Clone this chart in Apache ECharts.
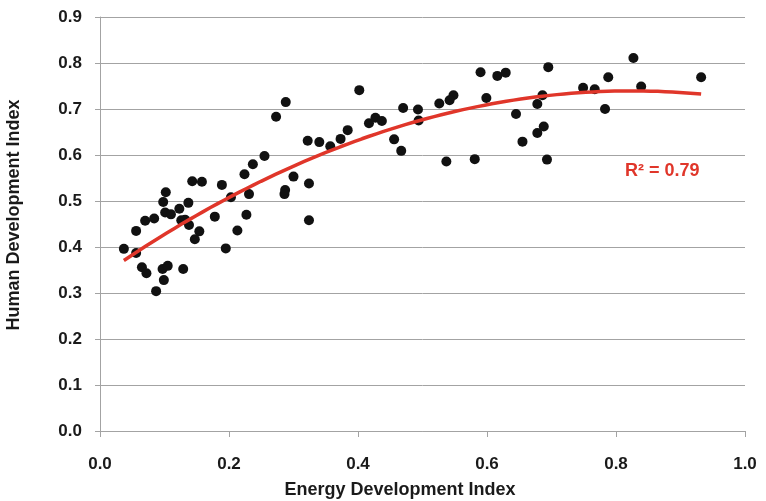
<!DOCTYPE html>
<html>
<head>
<meta charset="utf-8">
<script src="https://cdn.jsdelivr.net/npm/echarts@6/dist/echarts.min.js"></script>
<style>
  html, body { margin: 0; padding: 0; background: #fff; }
  #chart { width: 766px; height: 501px; }
</style>
</head>
<body>
<div id="chart"></div>
<script>
// Energy Development Index (x) and Human Development Index (y) per country
const energyIdx = [
  0.037, 0.056, 0.056, 0.065, 0.072, 0.070, 0.084, 0.087, 0.097, 0.105,
  0.099, 0.098, 0.102, 0.101, 0.110, 0.123, 0.137, 0.126, 0.132, 0.138,
  0.154, 0.147, 0.129, 0.143, 0.158, 0.178, 0.189, 0.203, 0.224, 0.231,
  0.227, 0.213, 0.195, 0.402, 0.288, 0.273, 0.417, 0.427, 0.322, 0.340,
  0.357, 0.373, 0.384, 0.255, 0.237, 0.300, 0.287, 0.286, 0.324, 0.324,
  0.590, 0.616, 0.629, 0.695, 0.599, 0.686, 0.678, 0.645, 0.688, 0.678,
  0.655, 0.693, 0.581, 0.537, 0.548, 0.542, 0.526, 0.470, 0.493, 0.494,
  0.456, 0.467, 0.437, 0.827, 0.788, 0.932, 0.749, 0.767, 0.839, 0.783
];
const humanIdx = [
  0.396, 0.435, 0.387, 0.356, 0.343, 0.457, 0.462, 0.304, 0.352, 0.359,
  0.328, 0.498, 0.519, 0.475, 0.471, 0.483, 0.496, 0.458, 0.459, 0.448,
  0.434, 0.417, 0.352, 0.543, 0.542, 0.466, 0.535, 0.508, 0.558, 0.515,
  0.470, 0.436, 0.397, 0.741, 0.715, 0.683, 0.669, 0.681, 0.631, 0.628,
  0.619, 0.635, 0.654, 0.598, 0.580, 0.553, 0.524, 0.515, 0.538, 0.458,
  0.780, 0.772, 0.779, 0.791, 0.724, 0.730, 0.711, 0.689, 0.662, 0.648,
  0.629, 0.590, 0.591, 0.586, 0.730, 0.719, 0.712, 0.702, 0.699, 0.675,
  0.634, 0.609, 0.674, 0.811, 0.769, 0.769, 0.746, 0.743, 0.749, 0.700
];
const rSquaredLabel = 'R\u00b2 = 0.79';

const scatterData = energyIdx.map((x, i) => [x, humanIdx[i]]);

// 2nd order polynomial least squares fit (same as the spreadsheet trendline)
function polyFit2 (xs, ys) {
  let s = [0, 0, 0, 0, 0], t = [0, 0, 0];
  for (let i = 0; i < xs.length; i++) {
    let p = 1;
    for (let k = 0; k < 5; k++) { s[k] += p; if (k < 3) t[k] += p * ys[i]; p *= xs[i]; }
  }
  const m = [[s[0], s[1], s[2], t[0]], [s[1], s[2], s[3], t[1]], [s[2], s[3], s[4], t[2]]];
  for (let c = 0; c < 3; c++) {
    for (let r = c + 1; r < 3; r++) {
      const f = m[r][c] / m[c][c];
      for (let k = c; k < 4; k++) m[r][k] -= f * m[c][k];
    }
  }
  const b = [0, 0, 0];
  for (let r = 2; r >= 0; r--) {
    let v = m[r][3];
    for (let k = r + 1; k < 3; k++) v -= m[r][k] * b[k];
    b[r] = v / m[r][r];
  }
  return b;
}

const coef = polyFit2(energyIdx, humanIdx);
const xMin = Math.min(...energyIdx), xMax = Math.max(...energyIdx);
const trendData = [];
for (let i = 0; i <= 80; i++) {
  const x = xMin + (xMax - xMin) * i / 80;
  trendData.push([x, coef[0] + coef[1] * x + coef[2] * x * x]);
}

var chartDom = document.getElementById('chart');
var myChart = echarts.init(chartDom);
var font = '"Liberation Sans", Arial, Helvetica, sans-serif';
var option;

option = {
  animation: false,
  grid: { left: 100, right: 21, top: 17, bottom: 70 },
  xAxis: {
    type: 'value',
    min: 0,
    max: 1,
    interval: 0.2,
    axisLine: { lineStyle: { color: '#a3a3a3', width: 1 } },
    axisTick: { show: true, length: 6, lineStyle: { color: '#a3a3a3' } },
    axisLabel: {
      margin: 25,
      color: '#1a1a1a',
      fontFamily: font,
      fontWeight: 'bold',
      fontSize: 17,
      formatter: v => v.toFixed(1)
    },
    splitLine: { show: false }
  },
  yAxis: {
    type: 'value',
    min: 0,
    max: 0.9,
    interval: 0.1,
    axisLine: { show: true, lineStyle: { color: '#a3a3a3', width: 1 } },
    axisTick: { show: true, length: 5, lineStyle: { color: '#a3a3a3' } },
    axisLabel: {
      margin: 18,
      color: '#1a1a1a',
      fontFamily: font,
      fontWeight: 'bold',
      fontSize: 17,
      formatter: v => v.toFixed(1)
    },
    splitLine: { show: true, lineStyle: { color: '#a3a3a3', width: 1 } }
  },
  graphic: [
    {
      type: 'text',
      x: 400,
      y: 490,
      style: {
        text: 'Energy Development Index',
        fill: '#1a1a1a',
        font: 'bold 18px ' + font,
        textAlign: 'center',
        textVerticalAlign: 'middle'
      }
    },
    {
      type: 'text',
      x: 14,
      y: 215,
      rotation: Math.PI / 2,
      style: {
        text: 'Human Development Index',
        fill: '#1a1a1a',
        font: 'bold 18px ' + font,
        textAlign: 'center',
        textVerticalAlign: 'middle'
      }
    },
    {
      type: 'text',
      x: 625,
      y: 171,
      style: {
        text: rSquaredLabel,
        fill: '#e0362a',
        font: 'bold 18px ' + font,
        textAlign: 'left',
        textVerticalAlign: 'middle'
      }
    }
  ],
  series: [
    {
      name: 'Countries',
      type: 'scatter',
      symbol: 'circle',
      symbolSize: 10,
      itemStyle: { color: '#111111', opacity: 1 },
      data: scatterData,
      z: 2
    },
    {
      name: 'Trend',
      type: 'line',
      showSymbol: false,
      smooth: false,
      lineStyle: { color: '#e0362a', width: 3.5 },
      data: trendData,
      z: 3
    }
  ]
};

option && myChart.setOption(option);
</script>
</body>
</html>
